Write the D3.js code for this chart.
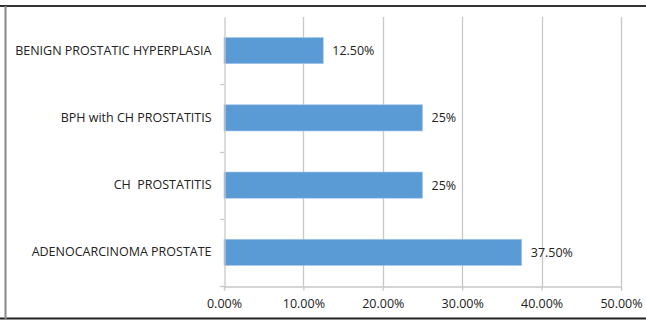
<!DOCTYPE html>
<html>
<head>
<meta charset="utf-8">
<script src="https://cdn.jsdelivr.net/npm/d3@7"></script>
<style>
  html, body { margin: 0; padding: 0; background: #fff; }
  svg { display: block; }
  text { font-family: "Open Sans", "Noto Sans", sans-serif; fill: #222; white-space: pre; }
</style>
</head>
<body>
<svg id="chart" width="646" height="320"></svg>
<script>
// Diagnoses, listed top to bottom
const categories = [
  "BENIGN PROSTATIC HYPERPLASIA",
  "BPH with CH PROSTATITIS",
  "CH  PROSTATITIS",
  "ADENOCARCINOMA PROSTATE"
];
// Share of cases (percent)
const values = [12.5, 25, 25, 37.5];
// Labels printed next to each bar
const valueLabels = ["12.50%", "25%", "25%", "37.50%"];
// X axis ticks
const xTicks = [0, 10, 20, 30, 40, 50];

const svg = d3.select("#chart");
const W = 646;
const margin = { top: 17, left: 224 };
const FONT = "\"Open Sans\", \"Noto Sans\", sans-serif";
const FS = 12.5;

// frame: top, bottom and left edges
svg.append("line").attr("x1", 0).attr("x2", W).attr("y1", 6).attr("y2", 6)
  .attr("stroke", "#333").attr("stroke-width", 2);
svg.append("line").attr("x1", 0).attr("x2", W).attr("y1", 318.5).attr("y2", 318.5)
  .attr("stroke", "#222").attr("stroke-width", 2);
svg.append("line").attr("x1", 5.5).attr("x2", 5.5).attr("y1", 6).attr("y2", 319)
  .attr("stroke", "#888").attr("stroke-width", 2);

const x = d3.scaleLinear().domain([0, 50]).range([margin.left, 621]);
const y = d3.scaleBand().domain(categories)
  .range([margin.top, 286]).paddingInner(0.61).paddingOuter(0.305);

// vertical gridlines
svg.append("g").selectAll("line").data(xTicks.slice(1)).join("line")
  .attr("x1", d => Math.round(x(d)) + 0.5).attr("x2", d => Math.round(x(d)) + 0.5)
  .attr("y1", margin.top).attr("y2", 286)
  .attr("stroke", "#c8c8c8").attr("stroke-width", 1.3);

// bars
svg.append("g").selectAll("rect").data(values).join("rect")
  .attr("x", x(0))
  .attr("y", (d, i) => y(categories[i]))
  .attr("width", d => x(d) - x(0))
  .attr("height", y.bandwidth())
  .attr("fill", "#5b9bd5")
  .attr("stroke", "#a9c9ea").attr("stroke-width", 0.6);

// value labels
svg.append("g").selectAll("text").data(values).join("text")
  .attr("x", d => x(d) + 9)
  .attr("y", (d, i) => y(categories[i]) + y.bandwidth() / 2)
  .attr("dy", "0.36em")
  .attr("font-size", FS)
  .text((d, i) => valueLabels[i]);

// bottom axis
const xAxis = d3.axisBottom(x).tickValues(xTicks)
  .tickFormat(d => d3.format(".2f")(d) + "%")
  .tickSize(4).tickPadding(9);
const gx = svg.append("g").attr("transform", "translate(0,286.5)").call(xAxis);
gx.select(".domain").attr("stroke", "#c8c8c8").attr("stroke-width", 1.3);
gx.selectAll(".tick line").attr("stroke", "#c8c8c8").attr("stroke-width", 1.3);
gx.selectAll(".tick text").attr("font-size", FS).attr("fill", "#222")
  .attr("font-family", FONT);

// left axis with category labels
const yAxis = d3.axisLeft(y).tickSize(0).tickPadding(13);
const gy = svg.append("g").attr("transform", `translate(${margin.left + 0.5},0)`).call(yAxis);
gy.select(".domain").attr("stroke", "#c8c8c8").attr("stroke-width", 1.3);
gy.selectAll(".tick text").attr("font-size", FS).attr("fill", "#222")
  .attr("font-family", FONT).style("white-space", "pre");

// separator ticks between categories
const bounds = d3.range(categories.length + 1).map(i =>
  i === categories.length ? 286 : y(categories[i]) - y.step() * y.paddingInner() / 2);
svg.append("g").selectAll("line").data(bounds.slice(1)).join("line")
  .attr("x1", margin.left - 4).attr("x2", margin.left)
  .attr("y1", d => Math.round(d) + 0.5).attr("y2", d => Math.round(d) + 0.5)
  .attr("stroke", "#c8c8c8").attr("stroke-width", 1.3);
</script>
</body>
</html>
